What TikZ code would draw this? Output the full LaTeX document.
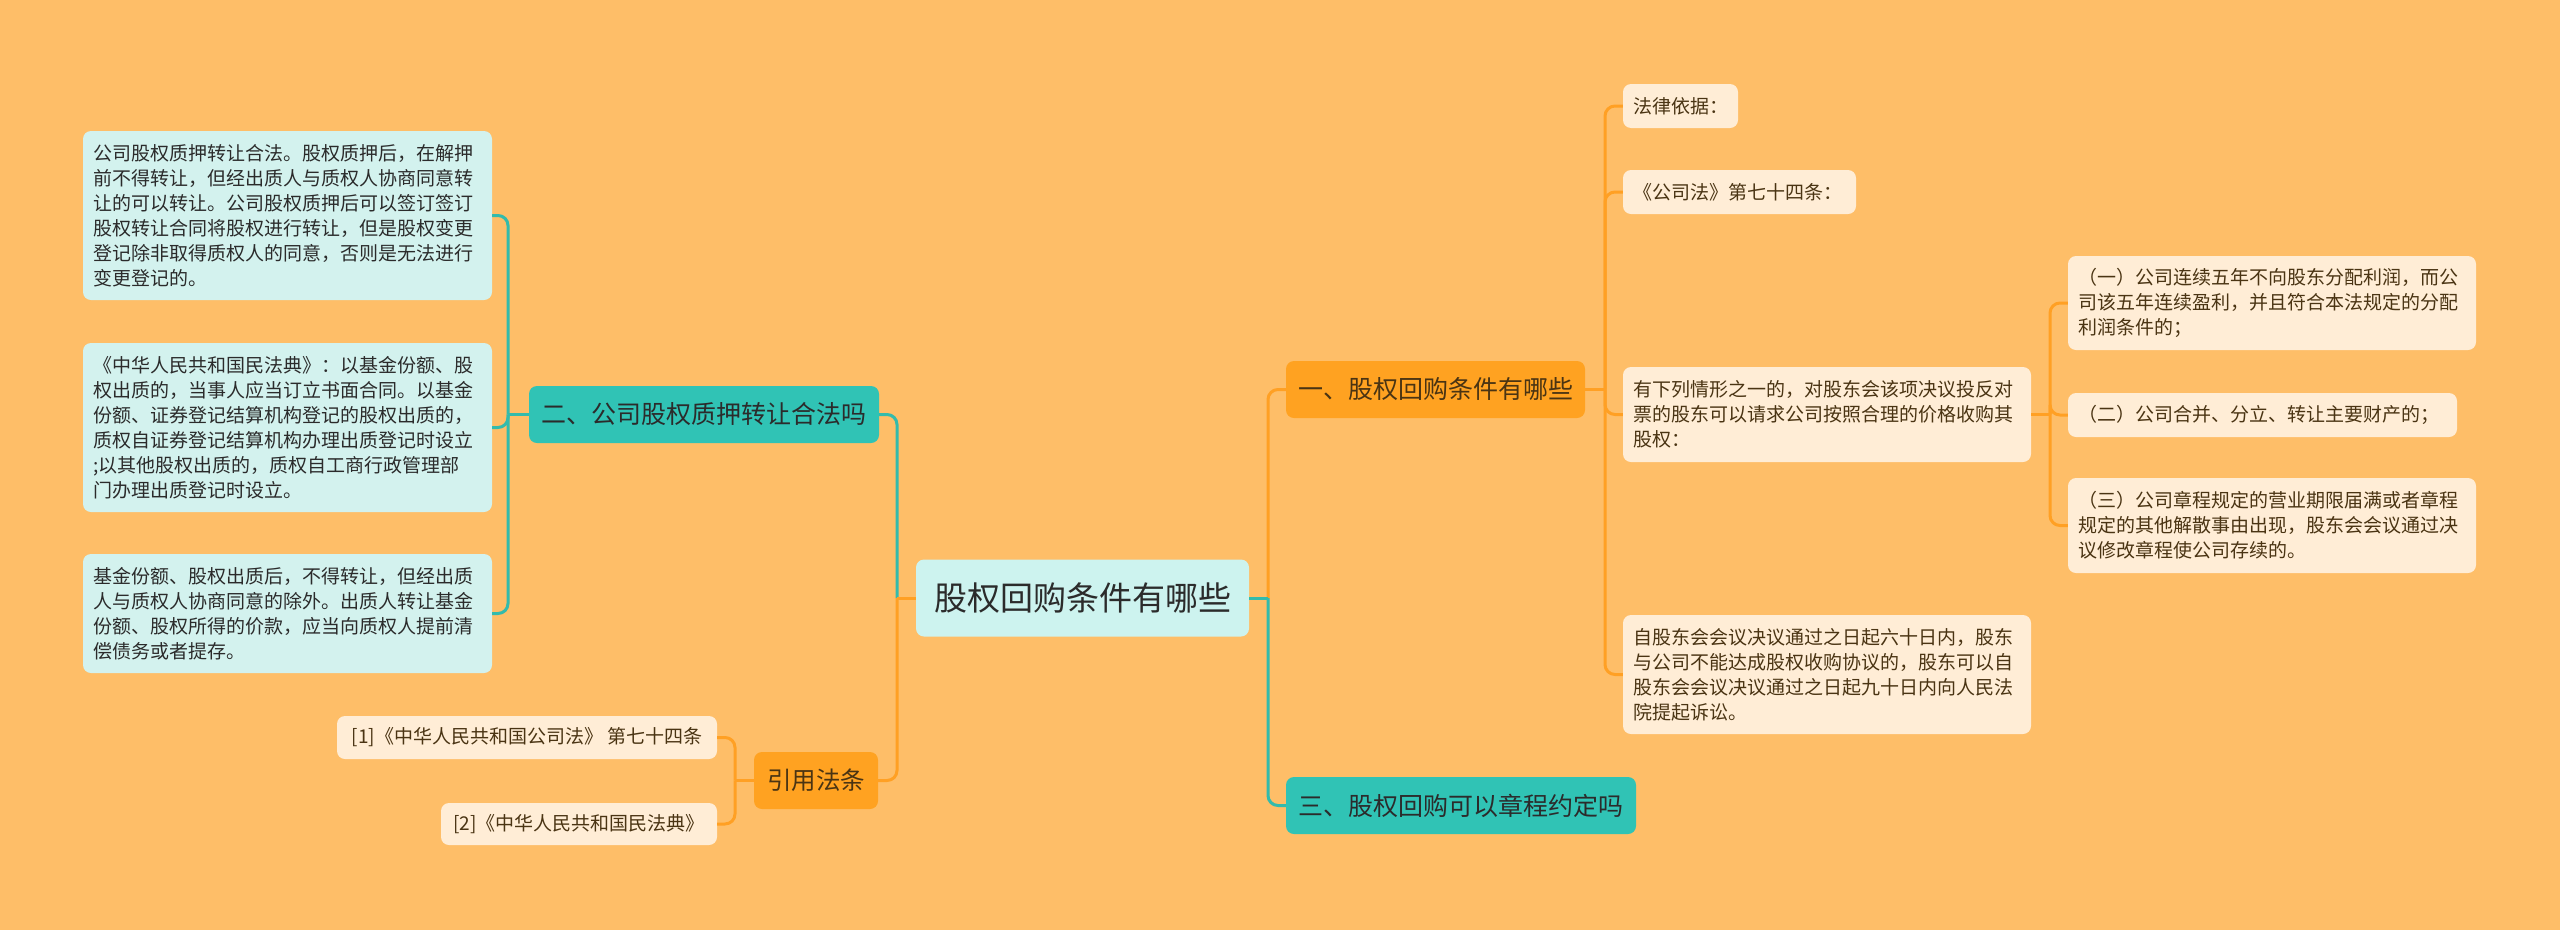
\documentclass[tikz,border=0pt]{standalone}
\usepackage{fontspec}
\newfontfamily\cjk{Noto Sans CJK SC}
\definecolor{bgc}{HTML}{FEBE68}
\definecolor{tealc}{HTML}{30C3B5}
\definecolor{rootfill}{HTML}{CDF3EF}
\definecolor{leafcyan}{HTML}{D3F2EE}
\definecolor{orangec}{HTML}{FFA221}
\definecolor{cream}{HTML}{FFEDD6}
\definecolor{textdark}{HTML}{2B2B2B}
\definecolor{textbrown}{HTML}{4A3413}
\definecolor{tline}{HTML}{33BBAC}
\definecolor{oline}{HTML}{FFA024}
\tikzset{
  boxbase/.style={rounded corners=8, inner xsep=10, inner ysep=0, font=\cjk},
  rootbox/.style={boxbase, fill=rootfill, text=textdark, align=center, font=\cjk\fontsize{33}{40}\selectfont},
  tealbox/.style={boxbase, fill=tealc, text=textdark, align=center, font=\cjk\fontsize{25}{30}\selectfont},
  orangebox/.style={boxbase, fill=orangec, text=textbrown, align=center, font=\cjk\fontsize{25}{30}\selectfont},
  cyanleaf/.style={boxbase, fill=leafcyan, text=textdark, align=left, font=\cjk\fontsize{19}{25}\selectfont},
  creamleaf/.style={boxbase, fill=cream, text=textbrown, align=left, font=\cjk\fontsize{19}{25}\selectfont},
  creamref/.style={boxbase, fill=cream, text=textbrown, align=center, font=\cjk\fontsize{19}{25}\selectfont},
  tl/.style={draw=tline, line width=3},
  ol/.style={draw=oline, line width=3},
  rc/.style={rounded corners=10},
}
\begin{document}
\begin{tikzpicture}[x=1pt,y=-1pt]
\fill[bgc] (0,0) rectangle (2560,930);
\useasboundingbox (0,0) rectangle (2560,930);

% junction coordinates
\coordinate (rootL) at (897,598);
\coordinate (rootR) at (1268,598);
\coordinate (n2J) at (508,414.5);
\coordinate (refJ) at (735,780.5);
\coordinate (n1J) at (1605,389.5);
\coordinate (c2J) at (2050,414.5);

% central and main nodes
\node[rootbox, minimum width=333, minimum height=77] (root) at (1082.5,598) {股权回购条件有哪些};
\node[tealbox, minimum width=350, minimum height=57] (n2) at (704,414.5) {二、公司股权质押转让合法吗};
\node[orangebox, minimum width=299, minimum height=57] (n1) at (1435.5,389.5) {一、股权回购条件有哪些};
\node[tealbox, minimum width=350, minimum height=57] (n3) at (1461,805.5) {三、股权回购可以章程约定吗};
\node[orangebox, minimum width=124, minimum height=57, font=\cjk\fontsize{24.5}{30}\selectfont] (nref) at (816,780.5) {引用法条};

% left leaves
\node[cyanleaf, text width=389, minimum height=169] (l1) at (287.5,215.5) {公司股权质押转让合法。股权质押后，在解押\\前不得转让，但经出质人与质权人协商同意转\\让的可以转让。公司股权质押后可以签订签订\\股权转让合同将股权进行转让，但是股权变更\\登记除非取得质权人的同意，否则是无法进行\\变更登记的。};
\node[cyanleaf, text width=389, minimum height=169] (l2) at (287.5,427.5) {《中华人民共和国民法典》：以基金份额、股\\权出质的，当事人应当订立书面合同。以基金\\份额、证券登记结算机构登记的股权出质的，\\质权自证券登记结算机构办理出质登记时设立\\;以其他股权出质的，质权自工商行政管理部\\门办理出质登记时设立。};
\node[cyanleaf, text width=389, minimum height=119] (l3) at (287.5,613.5) {基金份额、股权出质后，不得转让，但经出质\\人与质权人协商同意的除外。出质人转让基金\\份额、股权所得的价款，应当向质权人提前清\\偿债务或者提存。};

% references
\node[creamref, minimum width=380, minimum height=43] (r1) at (527,737.5) {[1]《中华人民共和国公司法》 第七十四条};
\node[creamref, minimum width=276, minimum height=42] (r2) at (579,824) {[2]《中华人民共和国民法典》};

% right children of n1
\node[creamleaf, text width=95, minimum height=44] (c0) at (1680.5,106) {法律依据：};
\node[creamleaf, text width=213, minimum height=44] (c1) at (1739.5,192) {《公司法》第七十四条：};
\node[creamleaf, text width=388, minimum height=95] (c2) at (1827,414.5) {有下列情形之一的，对股东会该项决议投反对\\票的股东可以请求公司按照合理的价格收购其\\股权：};
\node[creamleaf, text width=388, minimum height=119] (c3) at (1827,674.5) {自股东会会议决议通过之日起六十日内，股东\\与公司不能达成股权收购协议的，股东可以自\\股东会会议决议通过之日起九十日内向人民法\\院提起诉讼。};

% children of c2
\node[creamleaf, text width=388, minimum height=94] (d1) at (2272,303) {（一）公司连续五年不向股东分配利润，而公\\司该五年连续盈利，并且符合本法规定的分配\\利润条件的；};
\node[creamleaf, text width=369, minimum height=44] (d2) at (2262.5,415) {（二）公司合并、分立、转让主要财产的；};
\node[creamleaf, text width=388, minimum height=95] (d3) at (2272,525.5) {（三）公司章程规定的营业期限届满或者章程\\规定的其他解散事由出现，股东会会议通过决\\议修改章程使公司存续的。};

% connectors: root left
\draw[tl] (root.west) -- (rootL);
\draw[tl,rc] (rootL) |- (n2.east);
\draw[ol] (root.west) -- (rootL);
\draw[ol,rc] (rootL) |- (nref.east);
% root right
\draw[ol] (root.east) -- (rootR);
\draw[ol,rc] (rootR) |- (n1.west);
\draw[tl] (root.east) -- (rootR);
\draw[tl,rc] (rootR) |- (n3.west);

% n2 leaves
\draw[tl] (n2.west) -- (n2J);
\draw[tl,rc] (n2J) |- (l1.east);
\draw[tl,rc] (n2J) |- (l2.east);
\draw[tl,rc] (n2J) |- (l3.east);

% references
\draw[ol] (nref.west) -- (refJ);
\draw[ol,rc] (refJ) |- (r1.east);
\draw[ol,rc] (refJ) |- (r2.east);

% n1 children
\draw[ol] (n1.east) -- (n1J);
\draw[ol,rc] (n1J) |- (c0.west);
\draw[ol,rc] (n1J) |- (c1.west);
\draw[ol,rc] (n1J) |- (c2.west);
\draw[ol,rc] (n1J) |- (c3.west);

% c2 children
\draw[ol] (c2.east) -- (c2J);
\draw[ol,rc] (c2J) |- (d1.west);
\draw[ol,rc] (c2J) |- (d2.west);
\draw[ol,rc] (c2J) |- (d3.west);
\end{tikzpicture}
\end{document}
